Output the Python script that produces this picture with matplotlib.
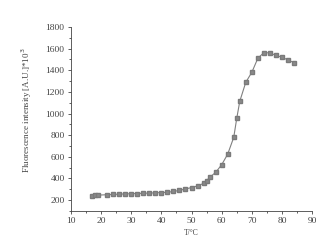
import numpy as np
import matplotlib
matplotlib.use("Agg")
import matplotlib.pyplot as plt
from matplotlib.ticker import MultipleLocator

# temperature (°C) and fluorescence intensity
temp = [17, 18, 19, 22, 24, 26, 28, 30, 32, 34, 36, 38, 40, 42, 44, 46, 48,
        50, 52, 54, 55, 56, 58, 60, 62, 64, 65, 66, 68, 70, 72, 74, 76, 78,
        80, 82, 84]
intensity = [238, 243, 246, 250, 252, 255, 257, 259, 261, 263, 265, 267, 270,
             272, 280, 290, 303, 316, 331, 355, 379, 410, 456, 527, 625, 780,
             956, 1113, 1289, 1381, 1511, 1563, 1560, 1537, 1520, 1495, 1470]

x_ticks = [10, 20, 30, 40, 50, 60, 70, 80, 90]
y_ticks = [200, 400, 600, 800, 1000, 1200, 1400, 1600, 1800]

plt.rcParams['font.family'] = ['Liberation Serif', 'DejaVu Serif']

fig = plt.figure(figsize=(3.36, 2.45), dpi=100)
ax = fig.add_axes([0.211, 0.139, 0.718, 0.751])

ax.plot(temp, intensity, color='#808080', lw=0.8, marker='s', ms=3.0,
        mec='#7a7a7a', mfc='#8a8a8a')

ax.set_xlim(10, 90)
ax.set_ylim(100, 1800)
ax.set_xticks(x_ticks)
ax.set_yticks(y_ticks)
ax.xaxis.set_minor_locator(MultipleLocator(5))
ax.yaxis.set_minor_locator(MultipleLocator(100))
ax.tick_params(which='both', direction='out', labelsize=6.8, width=0.6,
               colors='#444444', pad=2)
ax.tick_params(which='major', length=2.5)
ax.tick_params(which='minor', length=1.5)

for s in ['top', 'right']:
    ax.spines[s].set_visible(False)
for s in ['left', 'bottom']:
    ax.spines[s].set_linewidth(0.6)
    ax.spines[s].set_color('#444444')

ax.set_xlabel('T/°C', fontsize=5.5, labelpad=3, color='#444444')
ax.set_ylabel('Fluorescence intensity [A.U.]*10$^3$', fontsize=6.5,
              labelpad=7, color='#444444')
ax.yaxis.set_label_coords(-0.155, 0.55)

fig.savefig('out.png', dpi=100)
